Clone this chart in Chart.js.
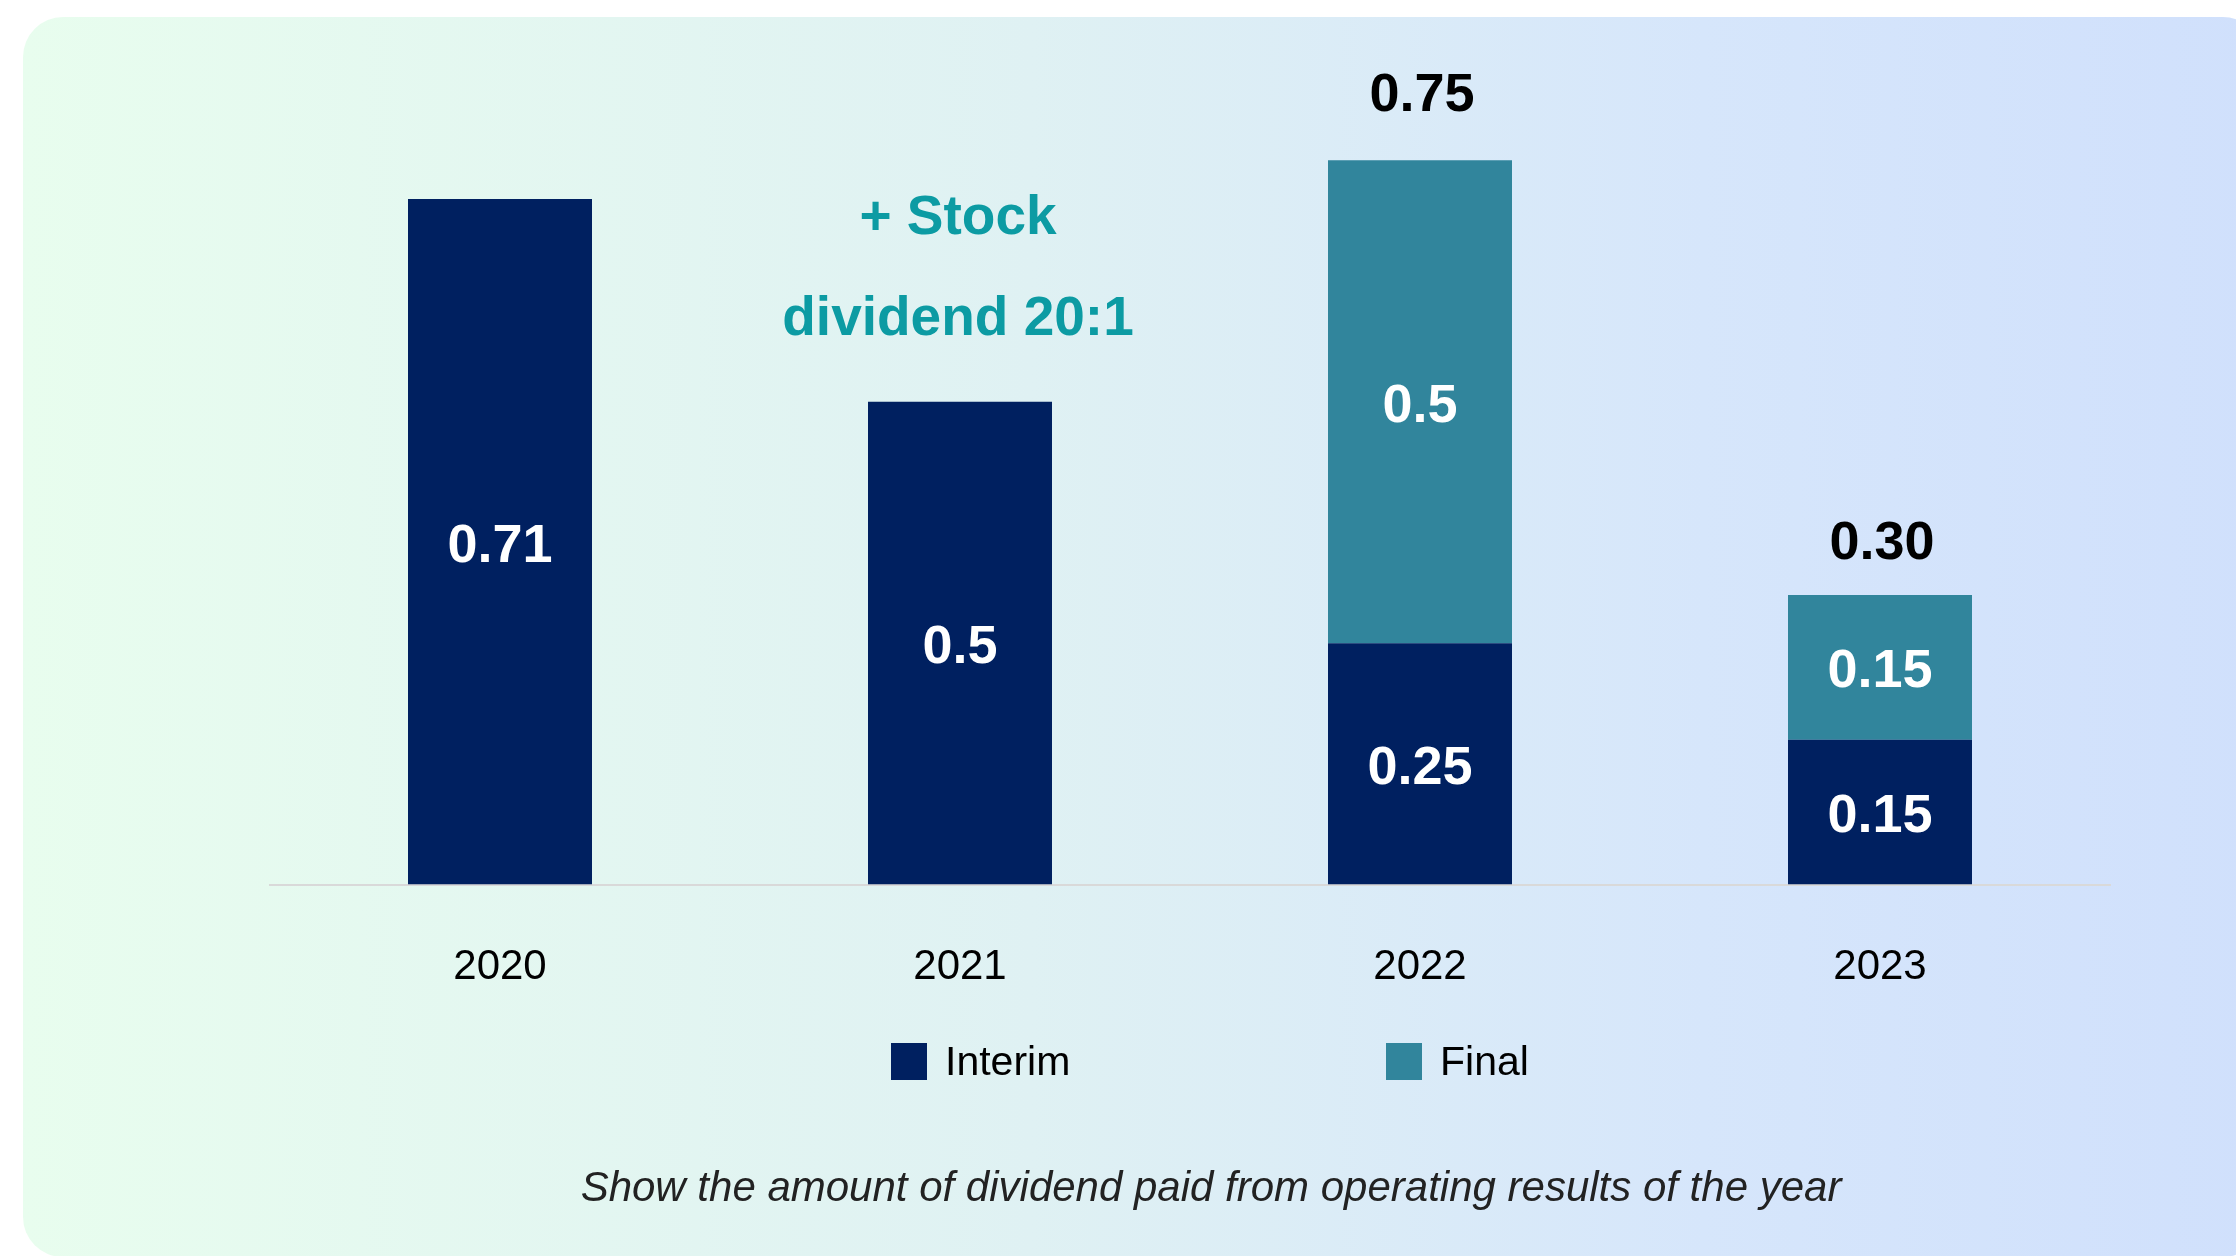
<!DOCTYPE html>
<html>
<head>
<meta charset="utf-8">
<script src="https://cdn.jsdelivr.net/npm/chart.js@4"></script>
<style>
  body { margin: 0; background: #ffffff; overflow: hidden; }
  #caixa { position: relative; width: 2236px; height: 1256px; }
  #fundo {
    position: absolute; left: 23px; top: 17px; width: 2240px; height: 1240px;
    border-radius: 40px;
    background: linear-gradient(to right, #e8fdee 0%, #dff1f3 45%, #d6e6fb 75%, #d0e0fc 100%);
  }
  #grafico { position: absolute; left: 0; top: 0; }
</style>
</head>
<body>
<div id="caixa">
  <div id="fundo"></div>
  <canvas id="grafico" width="2236" height="1256"></canvas>
</div>
<script>
// anos
var anos = ['2020', '2021', '2022', '2023'];
// dividendos
var interim = [0.71, 0.5, 0.25, 0.15];
var final = [0, 0, 0.5, 0.15];
// total em cima da barra (so onde tem as duas partes)
var totais = ['', '', '0.75', '0.30'];
var nomes = ['Interim', 'Final'];
var corInterim = '#002060';
var corFinal = '#31859c';
var legenda = 'Show the amount of dividend paid from operating results of the year';

var fonte = "'Liberation Sans', Arial, sans-serif";

// desenha os numeros, a nota do stock, legenda e texto de baixo
var pluginTextos = {
  id: 'textos',
  afterDatasetsDraw: function(chart) {
    var ctx = chart.ctx;
    ctx.save();
    ctx.textAlign = 'center';
    ctx.textBaseline = 'middle';

    // numeros dentro das barras
    ctx.fillStyle = '#ffffff';
    ctx.font = 'bold 54px ' + fonte;
    chart.data.datasets.forEach(function(ds, d) {
      var meta = chart.getDatasetMeta(d);
      meta.data.forEach(function(barra, i) {
        if (!ds.data[i]) return;
        ctx.fillText(String(ds.data[i]), barra.x, (barra.y + barra.base) / 2 + 5);
      });
    });

    // totais (distancia do topo da barra)
    var subida = [0, 0, 64, 51];
    ctx.fillStyle = '#000000';
    var metaTopo = chart.getDatasetMeta(1);
    for (var i = 0; i < totais.length; i++) {
      if (!totais[i]) continue;
      var b = metaTopo.data[i];
      ctx.fillText(totais[i], b.x + 2, b.y - subida[i]);
    }

    // nota do stock dividend em 2021
    var b2021 = chart.getDatasetMeta(0).data[1];
    ctx.fillStyle = '#0c9ba3';
    ctx.font = 'bold 55px ' + fonte;
    ctx.fillText('+ Stock', b2021.x - 2, b2021.y - 183);
    ctx.fillText('dividend 20:1', b2021.x - 2, b2021.y - 82);

    // legenda
    var cores = [corInterim, corFinal];
    var xs = [891, 1386];
    ctx.font = '41px ' + fonte;
    ctx.textAlign = 'left';
    for (var k = 0; k < nomes.length; k++) {
      ctx.fillStyle = cores[k];
      ctx.fillRect(xs[k], 1043, 36, 37);
      ctx.fillStyle = '#000000';
      ctx.fillText(nomes[k], xs[k] + 54, 1064);
    }

    // texto de baixo
    ctx.textAlign = 'center';
    ctx.fillStyle = '#222222';
    ctx.font = 'italic 42px ' + fonte;
    ctx.fillText(legenda, 1211, 1189);
    ctx.restore();
  }
};

var ctx = document.getElementById('grafico');
var chart = new Chart(ctx.getContext('2d'), {
  type: 'bar',
  data: {
    labels: anos,
    datasets: [
      { label: nomes[0], data: interim, backgroundColor: corInterim, borderWidth: 0,
        categoryPercentage: 1, barPercentage: 0.4 },
      { label: nomes[1], data: final, backgroundColor: corFinal, borderWidth: 0,
        categoryPercentage: 1, barPercentage: 0.4 }
    ]
  },
  options: {
    responsive: false,
    animation: false,
    layout: {
      padding: { left: 270, right: 126, top: 112, bottom: 205 }
    },
    plugins: {
      legend: { display: false },
      tooltip: { enabled: false }
    },
    scales: {
      x: {
        stacked: true,
        grid: { display: false, drawTicks: false },
        border: { display: true, color: '#d9d9d9', width: 2 },
        ticks: {
          color: '#000000',
          padding: 58,
          font: { family: fonte, size: 42 }
        }
      },
      y: {
        stacked: true,
        display: false,
        min: 0,
        max: 0.8
      }
    }
  },
  plugins: [pluginTextos]
});
</script>
</body>
</html>
